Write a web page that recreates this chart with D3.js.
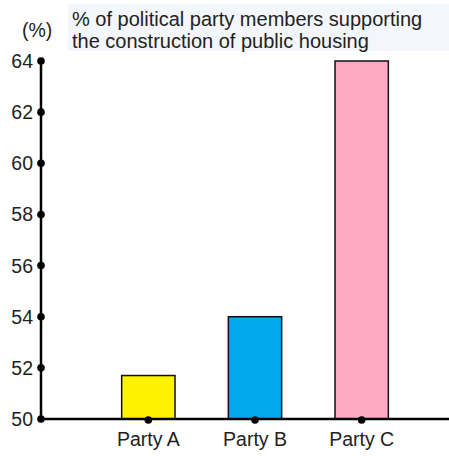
<!DOCTYPE html>
<html>
<head>
<meta charset="utf-8">
<script src="https://cdn.jsdelivr.net/npm/d3@7"></script>
<style>
  html, body { margin: 0; padding: 0; background: #fff; }
  svg { display: block; font-family: "Liberation Sans", Arial, sans-serif; }
</style>
</head>
<body>
<script>
// Share of members supporting public housing construction, by party
const categories = ["Party A", "Party B", "Party C"];
const values = [51.7, 54, 64];
const colors = ["#fff200", "#00a8ec", "#ffaac4"];
const yTicks = [50, 52, 54, 56, 58, 60, 62, 64];
const titleLines = ["% of political party members supporting", "the construction of public housing"];
const unitLabel = "(%)";

const W = 449, H = 456;
const svg = d3.select("body").append("svg").attr("width", W).attr("height", H);

const axisX = 41, baseY = 419, topY = 61;

const y = d3.scaleLinear().domain([50, 64]).range([baseY, topY]);
const x = d3.scaleBand().domain(categories).range([95, 415]).paddingInner(0.5).paddingOuter(0.25);

// Title panel
svg.append("rect").attr("x", 68).attr("y", 4).attr("width", W - 68).attr("height", 47)
  .attr("fill", "#f3f7fb");
svg.append("g").selectAll("text").data(titleLines).join("text")
  .attr("x", 72).attr("y", (d, i) => 26 + i * 21.5)
  .attr("font-size", 20).attr("fill", "#222").text(d => d);
svg.append("text").attr("x", 22).attr("y", 37).attr("font-size", 19.5).attr("fill", "#222").text(unitLabel);

// Bars
svg.append("g").selectAll("rect").data(values).join("rect")
  .attr("x", (d, i) => x(categories[i]))
  .attr("y", d => y(d))
  .attr("width", x.bandwidth())
  .attr("height", d => y(50) - y(d))
  .attr("fill", (d, i) => colors[i])
  .attr("stroke", "#111").attr("stroke-width", 1.5);

// Axes lines
svg.append("line").attr("x1", axisX).attr("x2", axisX).attr("y1", y(64)).attr("y2", baseY)
  .attr("stroke", "#000").attr("stroke-width", 2.5);
svg.append("line").attr("x1", axisX).attr("x2", W).attr("y1", baseY).attr("y2", baseY)
  .attr("stroke", "#000").attr("stroke-width", 2.5);

// Y ticks: dots and labels
const yg = svg.append("g");
yg.selectAll("circle").data(yTicks).join("circle")
  .attr("cx", axisX).attr("cy", d => y(d)).attr("r", 3.8).attr("fill", "#000");
yg.selectAll("text").data(yTicks).join("text")
  .attr("x", axisX - 8).attr("y", d => y(d) + 7).attr("text-anchor", "end")
  .attr("font-size", 19.5).attr("fill", "#222").text(d => d);

// Category dots and labels
const xg = svg.append("g");
xg.selectAll("circle").data(categories).join("circle")
  .attr("cx", d => x(d) + x.bandwidth() / 2).attr("cy", baseY + 1).attr("r", 3.8).attr("fill", "#000");
xg.selectAll("text").data(categories).join("text")
  .attr("x", d => x(d) + x.bandwidth() / 2).attr("y", 446).attr("text-anchor", "middle")
  .attr("font-size", 19.5).attr("fill", "#222").text(d => d);
</script>
</body>
</html>
